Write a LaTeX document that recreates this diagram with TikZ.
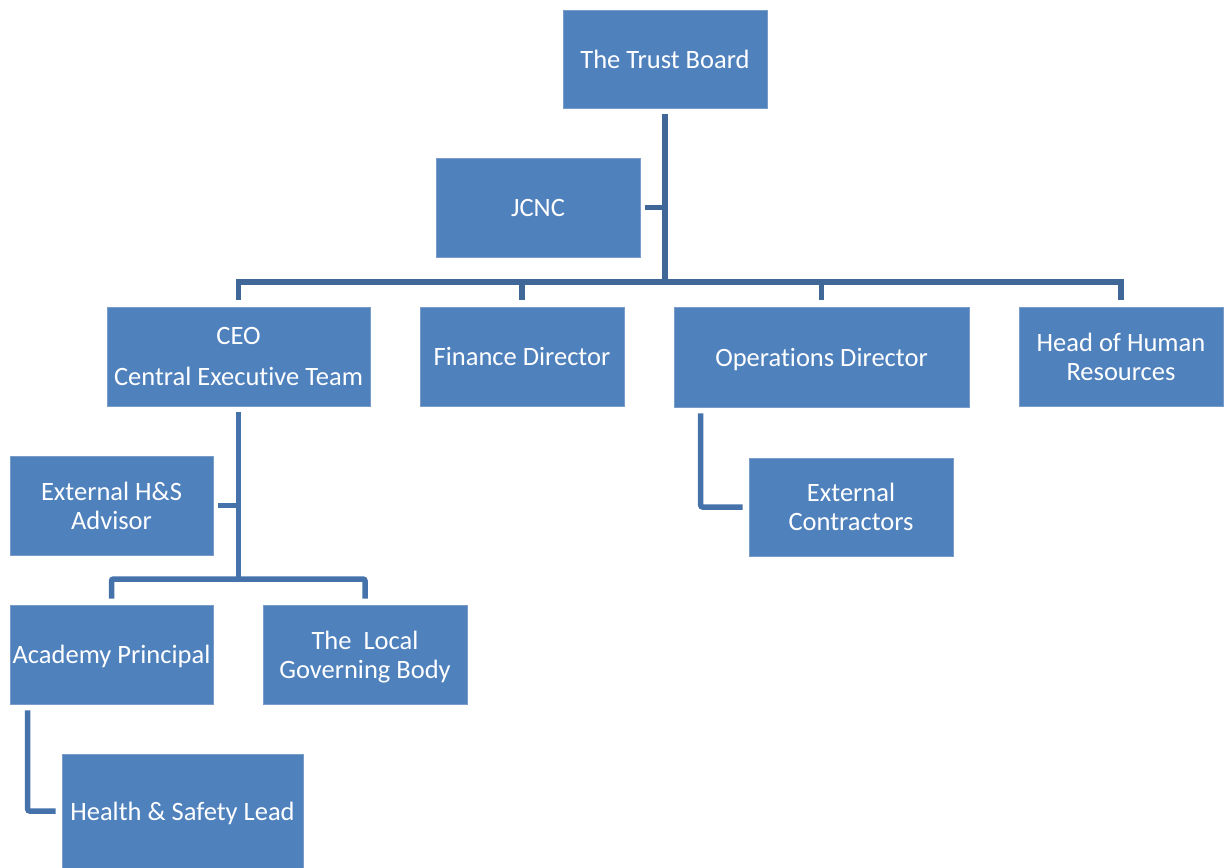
\documentclass[tikz,border=0pt]{standalone}
\usepackage{fontspec}
\setmainfont[Ligatures={NoCommon}]{Carlito}
\definecolor{boxblue}{HTML}{4F81BD}
\definecolor{boxedge}{HTML}{7A9CCB}
\definecolor{linetop}{HTML}{3F6899}
\definecolor{linelow}{HTML}{4672AC}
\begin{document}
\begin{tikzpicture}[x=1pt,y=-1pt,
  orgbox/.style={rectangle, fill=boxblue, draw=boxedge, line width=0.6pt, text=white, inner sep=0pt, align=center,
    text depth=0pt, font=\fontsize{26.5}{29}\selectfont},
  conntop/.style={draw=linetop, line width=5.5pt, rounded corners=2pt},
  connlow/.style={draw=linelow, line width=5.5pt, rounded corners=2pt}]
\useasboundingbox (0,0) rectangle (1227,868);
\fill[white] (0,0) rectangle (1227,868);
\node[orgbox, minimum width=204pt, minimum height=98pt] (tb) at (665,59) {The Trust Board};
\node[orgbox, minimum width=204pt, minimum height=99pt] (jcnc) at (538,207.5) {JCNC};
\node[orgbox, minimum width=263pt, minimum height=99pt] (ceo) at (238.5,356.5) {CEO\\[12pt]Central Executive Team};
\node[orgbox, minimum width=204pt, minimum height=99pt] (fin) at (522,356.5) {Finance Director};
\node[orgbox, minimum width=295pt, minimum height=100pt] (ops) at (821.5,357) {Operations Director};
\node[orgbox, minimum width=204pt, minimum height=99pt] (hr) at (1121,356.5) {Head of Human\\Resources};
\node[orgbox, minimum width=203pt, minimum height=99pt] (hsa) at (111.5,505.5) {External H\&S\\Advisor};
\node[orgbox, minimum width=204pt, minimum height=98pt] (ec) at (851,507) {External\\Contractors};
\node[orgbox, minimum width=203pt, minimum height=99pt] (ap) at (111.5,654.5) {Academy Principal};
\node[orgbox, minimum width=204pt, minimum height=99pt] (lgb) at (365,654.5) {The\ \ Local\\Governing Body};
\node[orgbox, minimum width=241pt, minimum height=114pt] (hsl) at (182.5,811) {Health \& Safety Lead};
\coordinate (bar) at (665,282);
\coordinate (ceobar) at (238.5,579);
% top level
\draw[conntop, shorten <=6pt] (tb.south) -- (bar);
\draw[conntop, shorten <=5pt] (jcnc.east) -- (jcnc.east -| tb.south);
\draw[conntop, line cap=rect] (ceo.north |- bar) -- (hr.north |- bar);
\draw[conntop, shorten >=7pt] (ceo.north |- bar) -- (ceo.north);
\draw[conntop, shorten >=7pt] (fin.north |- bar) -- (fin.north);
\draw[conntop, shorten >=7pt] (ops.north |- bar) -- (ops.north);
\draw[conntop, shorten >=7pt] (hr.north |- bar) -- (hr.north);
% CEO branch
\draw[connlow, shorten <=6pt] (ceo.south) -- (ceobar);
\draw[connlow, shorten <=5pt] (hsa.east) -- (hsa.east -| ceo.south);
\draw[connlow, shorten <=6pt, shorten >=6pt] (ap.north) -- (ap.north |- ceobar) -- (lgb.north |- ceobar) -- (lgb.north);
% operations branch
\draw[connlow, shorten <=6pt, shorten >=6pt] (ops.south west) ++(27,0) coordinate (opsdrop) (opsdrop) -- (opsdrop |- ec.west) -- (ec.west);
% academy branch
\draw[connlow, shorten <=6pt, shorten >=6pt] (ap.south west) ++(18,0) coordinate (apdrop) (apdrop) -- (apdrop |- hsl.west) -- (hsl.west);
\end{tikzpicture}
\end{document}
